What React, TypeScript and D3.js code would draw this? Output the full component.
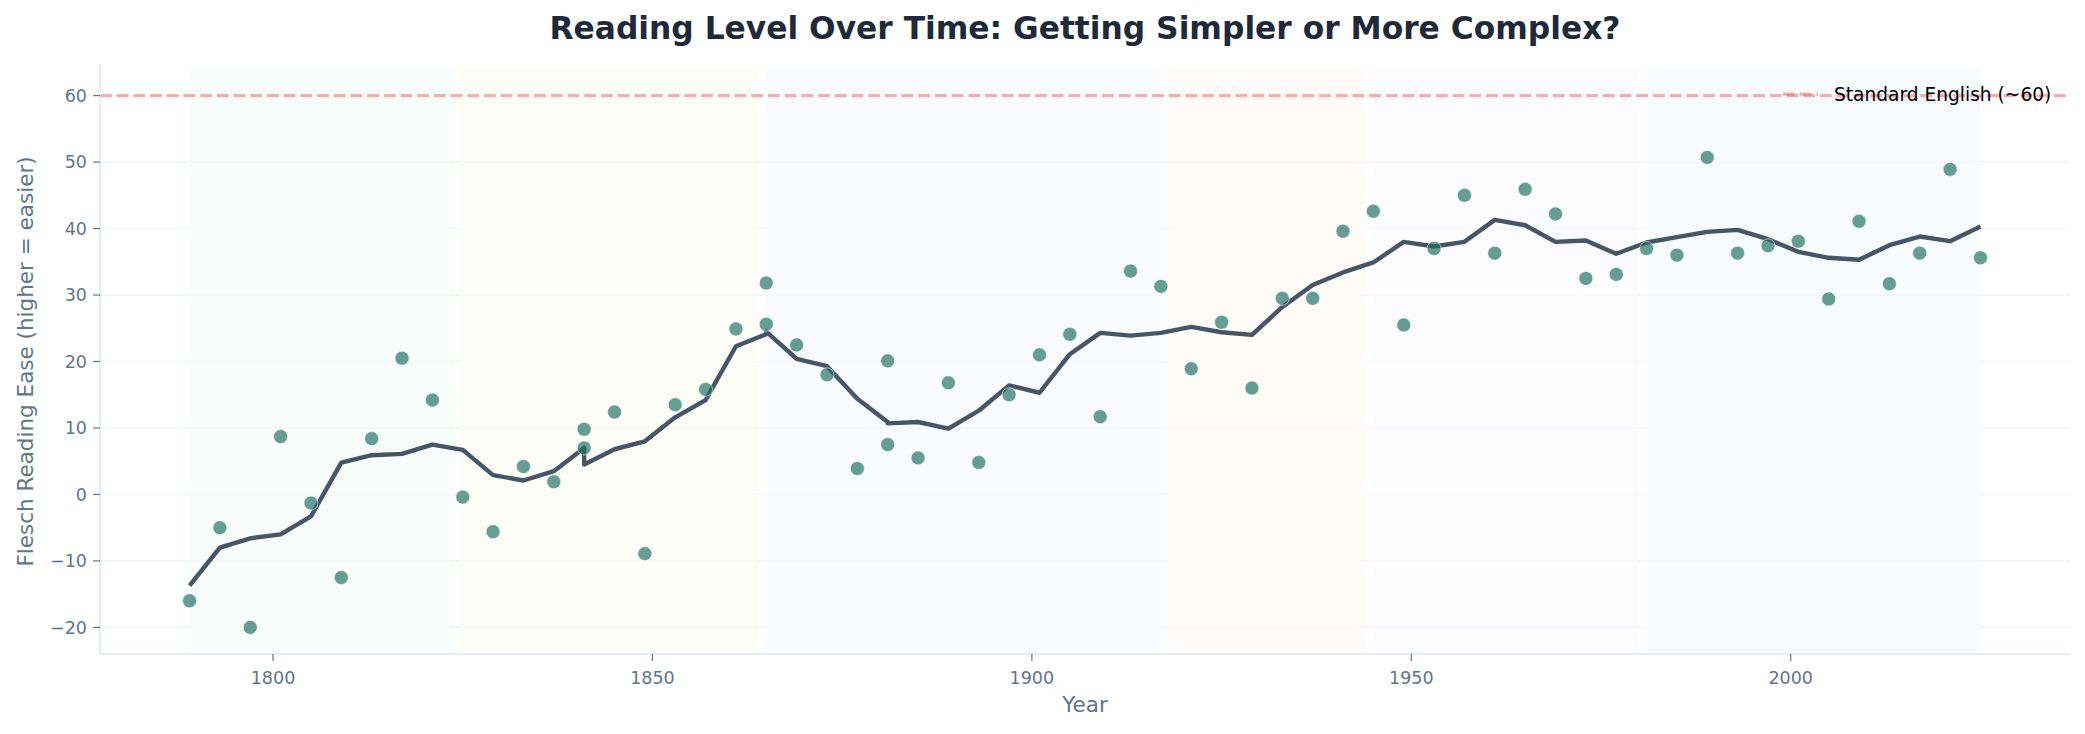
import React from 'react';
import * as d3 from 'd3';

// inaugural-style speeches: year and Flesch reading ease score
const years = [
  1789, 1793, 1797, 1801, 1805, 1809, 1813, 1817, 1821, 1825, 1829, 1833, 1837,
  1841, 1841, 1845, 1849, 1853, 1857, 1861, 1865, 1865, 1869, 1873, 1877, 1881,
  1881, 1885, 1889, 1893, 1897, 1901, 1905, 1909, 1913, 1917, 1921, 1925, 1929,
  1933, 1937, 1941, 1945, 1949, 1953, 1957, 1961, 1965, 1969, 1973, 1977, 1981,
  1985, 1989, 1993, 1997, 2001, 2005, 2009, 2013, 2017, 2021, 2025,
];

const fleschScores = [
  -16.0, -5.0, -20.0, 8.7, -1.3, -12.5, 8.4, 20.5, 14.2, -0.4, -5.6, 4.2, 1.9,
  9.8, 7.0, 12.4, -8.9, 13.5, 15.8, 24.9, 25.6, 31.8, 22.5, 18.0, 3.9, 20.1,
  7.5, 5.5, 16.8, 4.8, 15.0, 21.0, 24.1, 11.7, 33.6, 31.3, 18.9, 25.9, 16.0,
  29.5, 29.5, 39.6, 42.6, 25.5, 37.0, 45.0, 36.3, 45.9, 42.2, 32.5, 33.1, 37.0,
  36.0, 50.7, 36.3, 37.4, 38.1, 29.4, 41.1, 31.7, 36.3, 48.9, 35.6,
];

// smoothed trend, one value per speech
const trendScores = [
  -13.7, -8.0, -6.6, -6.0, -3.3, 4.8, 5.9, 6.1, 7.5, 6.7, 2.9, 2.1, 3.5,
  7.0, 4.5, 6.8, 8.0, 11.6, 14.2, 22.3, 24.1, 24.5, 20.4, 19.3, 14.4, 10.9,
  10.7, 10.9, 9.9, 12.6, 16.4, 15.3, 21.1, 24.3, 23.9, 24.3, 25.2, 24.4, 24.0,
  28.2, 31.5, 33.4, 34.9, 38.0, 37.3, 38.0, 41.3, 40.5, 38.0, 38.2, 36.2, 37.9,
  38.7, 39.5, 39.8, 38.4, 36.5, 35.6, 35.3, 37.5, 38.8, 38.1, 40.3,
];

// historical eras shaded behind the data
const eraStarts = [1789, 1824.5, 1865, 1918, 1945, 1981];
const eraEnds = [1824, 1864, 1917, 1944, 1980, 2025];
const eraColors = ['#f6fbf8', '#fcfcf4', '#f7f9fe', '#fffaf6', '#fbfaff', '#f5f9fd'];

const xTicks = [1800, 1850, 1900, 1950, 2000];
const yTicks = [-20, -10, 0, 10, 20, 30, 40, 50, 60];

const standardLevel = 60;
const standardLabel = 'Standard English (~60)';

const width = 2085;
const height = 734;
const margin = { top: 69, right: 15, bottom: 80, left: 100 };
const font = '"DejaVu Sans", sans-serif';

// 5% padding on each side, like the usual plotting defaults
const padded = (lo: number, hi: number) => {
  const p = (hi - lo) * 0.05;
  return [lo - p, hi + p];
};

export default function App() {
  const [x0, x1] = d3.extent(years) as [number, number];
  const yLo = Math.min(d3.min(fleschScores) as number, standardLevel);
  const yHi = Math.max(d3.max(fleschScores) as number, standardLevel);

  const x = d3.scaleLinear()
    .domain(padded(x0, x1))
    .range([margin.left, width - margin.right]);
  const y = d3.scaleLinear()
    .domain(padded(yLo, yHi))
    .range([height - margin.bottom, margin.top]);

  const plotBottom = height - margin.bottom;
  const plotRight = width - margin.right;

  const trendLine = d3.line<number>()
    .x((_, i) => x(years[i]))
    .y(d => y(d));

  const fmt = d3.format('d');

  return (
    <svg width={width} height={height} style={{ display: 'block', background: '#fff' }} fontFamily={font}>
      <style>{'body{margin:0}'}</style>

      {/* title */}
      <text x={(margin.left + plotRight) / 2} y={39} textAnchor="middle"
        fontSize={31.3} fontWeight="bold" fill="#1e293b">
        Reading Level Over Time: Getting Simpler or More Complex?
      </text>

      {/* horizontal grid */}
      {yTicks.map(t => (
        <line key={'g' + t} x1={margin.left} x2={plotRight} y1={y(t)} y2={y(t)}
          stroke="#f1f5f9" strokeWidth={1.6} />
      ))}

      {/* era bands */}
      {eraStarts.map((s, i) => (
        <rect key={'era' + i} x={x(s)} y={margin.top} width={x(eraEnds[i]) - x(s)}
          height={plotBottom - margin.top} fill={eraColors[i]} fillOpacity={0.75} />
      ))}

      {/* reference level */}
      <line x1={margin.left} x2={plotRight} y1={y(standardLevel)} y2={y(standardLevel)}
        stroke="#ef4444" strokeOpacity={0.42} strokeWidth={3.1} strokeDasharray="11.7,5" />

      {/* trend */}
      <path d={trendLine(trendScores) ?? ''} fill="none" stroke="#475569"
        strokeWidth={4.4} strokeLinejoin="round" />

      {/* scores */}
      {fleschScores.map((v, i) => (
        <circle key={'p' + i} cx={x(years[i])} cy={y(v)} r={7}
          fill="#1e7062" fillOpacity={0.68} stroke="#ffffff" strokeOpacity={0.7} strokeWidth={0.8} />
      ))}

      {/* spines */}
      <line x1={margin.left} x2={margin.left} y1={margin.top - 5} y2={plotBottom}
        stroke="#e2e8f0" strokeWidth={1.6} />
      <line x1={margin.left} x2={plotRight} y1={plotBottom} y2={plotBottom}
        stroke="#e2e8f0" strokeWidth={1.6} />

      {/* y axis */}
      {yTicks.map(t => (
        <g key={'y' + t}>
          <line x1={margin.left - 7} x2={margin.left} y1={y(t)} y2={y(t)} stroke="#64748b" strokeWidth={1.2} />
          <text x={margin.left - 13} y={y(t)} dy="0.36em" textAnchor="end" fontSize={17.5} fill="#64748b">
            {fmt(t)}
          </text>
        </g>
      ))}

      {/* x axis */}
      {xTicks.map(t => (
        <g key={'x' + t}>
          <line x1={x(t)} x2={x(t)} y1={plotBottom} y2={plotBottom + 7} stroke="#64748b" strokeWidth={1.2} />
          <text x={x(t)} y={plotBottom + 30} textAnchor="middle" fontSize={17.5} fill="#64748b">
            {t}
          </text>
        </g>
      ))}

      <text x={(margin.left + plotRight) / 2} y={712} textAnchor="middle" fontSize={21.5} fill="#64748b">
        Year
      </text>
      <text transform={`translate(33,${(margin.top + plotBottom) / 2}) rotate(-90)`} textAnchor="middle"
        fontSize={21.5} fill="#64748b">
        Flesch Reading Ease (higher = easier)
      </text>

      {/* legend */}
      <line x1={1783} x2={1818} y1={y(standardLevel) - 1.5} y2={y(standardLevel) - 1.5}
        stroke="#ef4444" strokeOpacity={0.42} strokeWidth={3.1} strokeDasharray="11.7,5" />
      <text x={1834} y={101} fontSize={18.6} fill="#000">{standardLabel}</text>
    </svg>
  );
}
